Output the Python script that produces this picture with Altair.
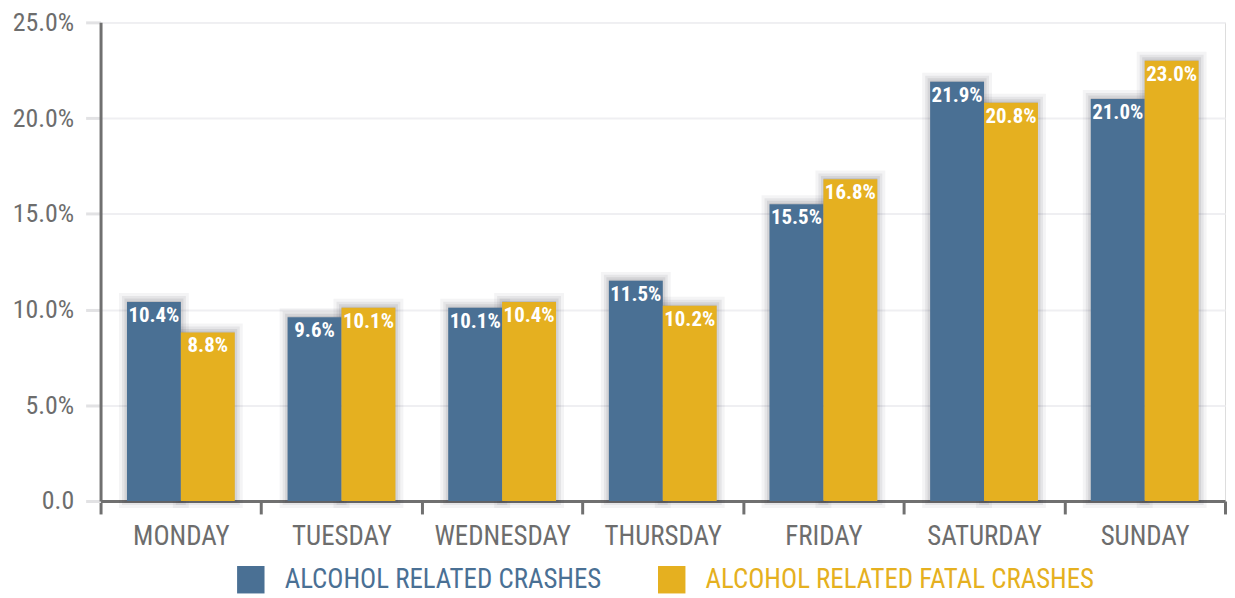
import altair as alt
import pandas as pd

days = ["MONDAY", "TUESDAY", "WEDNESDAY", "THURSDAY", "FRIDAY", "SATURDAY", "SUNDAY"]
series = ["ALCOHOL RELATED CRASHES", "ALCOHOL RELATED FATAL CRASHES"]
crashes = [10.4, 9.6, 10.1, 11.5, 15.5, 21.9, 21.0]
fatal = [8.8, 10.1, 10.4, 10.2, 16.8, 20.8, 23.0]
colors = ["#4a7094", "#e5b020"]

rows = []
for d, c, f in zip(days, crashes, fatal):
    rows.append({"day": d, "series": series[0], "value": c, "label": f"{c:.1f}%"})
    rows.append({"day": d, "series": series[1], "value": f, "label": f"{f:.1f}%"})
df = pd.DataFrame(rows)

FONT = "Liberation Sans Narrow, Roboto Condensed, Arial Narrow, sans-serif"

x = alt.X("day:N", sort=days, title=None,
          scale=alt.Scale(paddingInner=0, paddingOuter=0),
          axis=alt.Axis(labelAngle=0, labelFontSize=27, labelColor="#6d6d6d", labelFont=FONT,
                        domainColor="#707070", domainWidth=3, tickColor="#707070", tickWidth=3,
                        tickSize=13, tickBand="extent", labelPadding=10))
xo = alt.XOffset("series:N", sort=series,
                 scale=alt.Scale(paddingInner=0, paddingOuter=0.49))
y = alt.Y("value:Q", title=None,
          scale=alt.Scale(domain=[0, 25], nice=False),
          axis=alt.Axis(values=[0, 5, 10, 15, 20, 25], labelFontSize=26, labelColor="#6d6d6d",
                        labelFont=FONT, labelExpr="datum.value == 0 ? '0.0' : format(datum.value, '.1f') + '%'",
                        domainColor="#707070", domainWidth=3, tickColor="#e2e2e4", tickWidth=3,
                        tickSize=15, gridColor="#efeff2", gridWidth=2, labelPadding=12))
label_color = f"datum.value == '{series[0]}' ? '{colors[0]}' : '{colors[1]}'"
color = alt.Color("series:N", sort=series, title=None,
                  scale=alt.Scale(domain=series, range=colors),
                  legend=alt.Legend(orient="none", legendX=137, legendY=546,
                                    direction="horizontal", symbolType="square",
                                    symbolSize=760, symbolStrokeWidth=0, labelFontSize=27,
                                    labelFont=FONT, labelOffset=20, columnPadding=56,
                                    labelLimit=600, padding=0,
                                    labelColor=alt.ExprRef(label_color)))

base = alt.Chart(df).encode(x=x, xOffset=xo, y=y)

shadow_style = dict(xOffset=5, x2Offset=5, yOffset=-1, fill="#2a2a35")
shadows = [
    base.mark_bar(fillOpacity=0, stroke="#2a2a35", strokeOpacity=0.05, strokeWidth=16, **shadow_style),
    base.mark_bar(fillOpacity=0, stroke="#2a2a35", strokeOpacity=0.07, strokeWidth=10, **shadow_style),
    base.mark_bar(fillOpacity=0.12, stroke="#2a2a35", strokeOpacity=0.09, strokeWidth=5, **shadow_style),
]
bars = base.mark_bar().encode(color=color)
labels = base.mark_text(color="white", fontSize=21, fontWeight="bold", font=FONT,
                        baseline="alphabetic", dy=20).encode(text="label:N")

chart = alt.layer(*shadows, bars, labels).properties(
    width=1130, height=481,
    padding={"left": 4, "top": 0, "right": 0, "bottom": 0},
).configure_view(fill="#e6e7ec", stroke=None).configure(background="white")

chart.save("out.html", embed_options={"renderer": "svg", "actions": False})
